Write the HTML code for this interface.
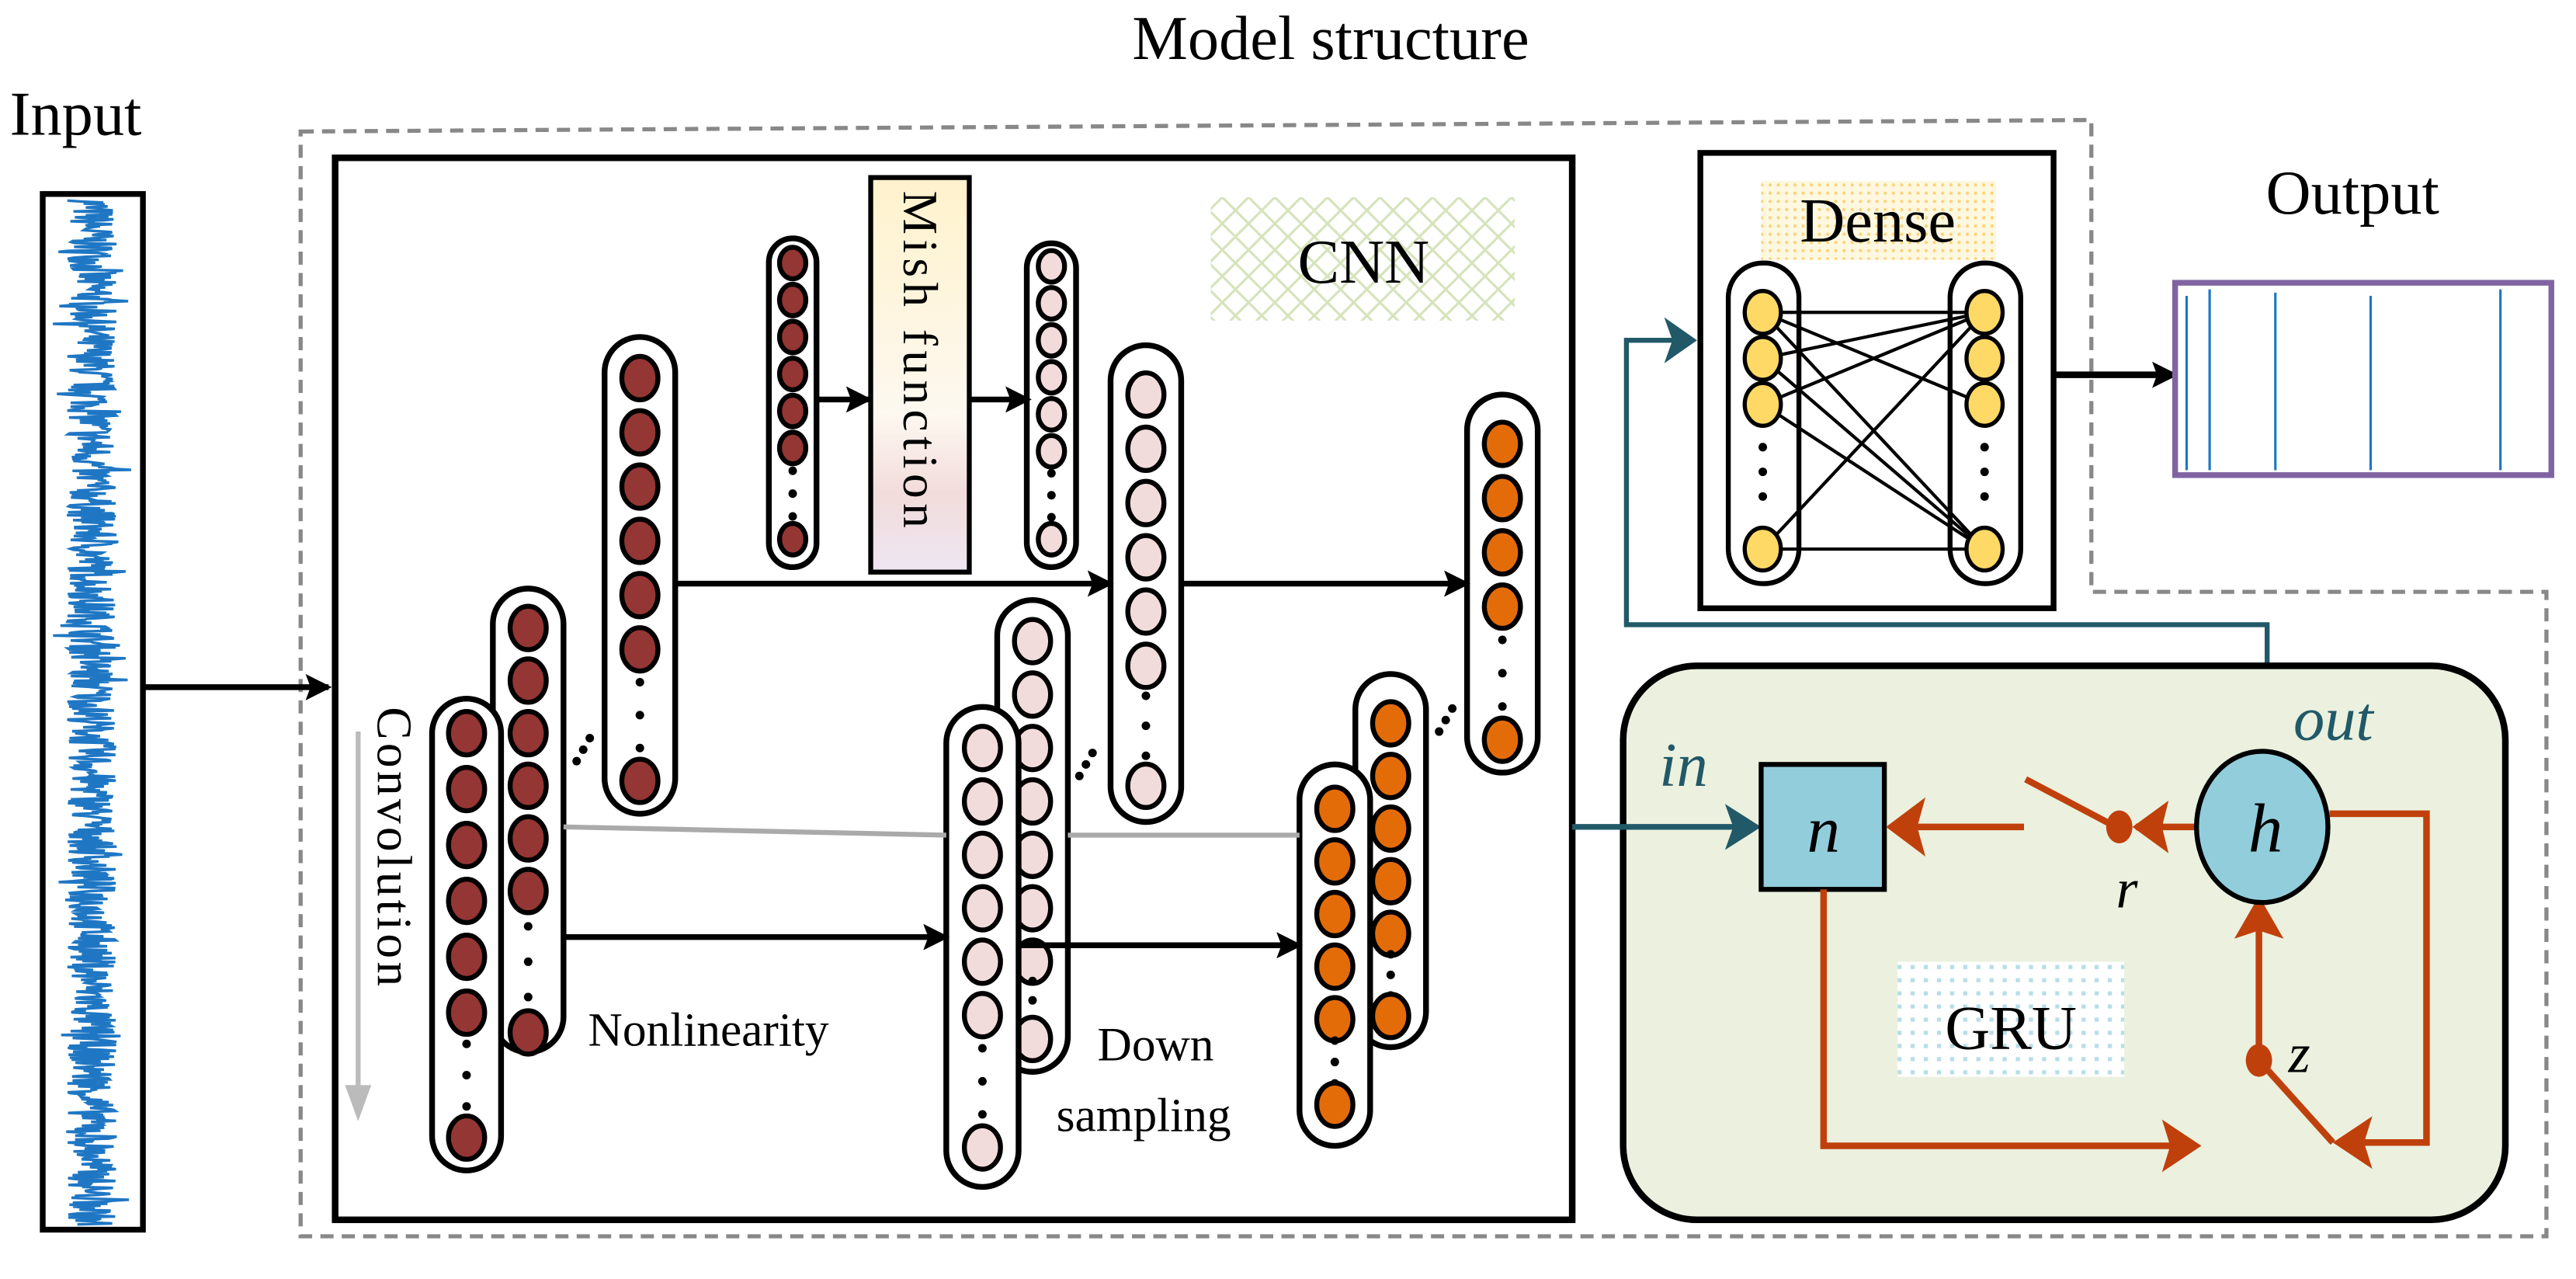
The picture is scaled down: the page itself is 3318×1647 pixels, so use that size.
<!DOCTYPE html>
<html><head><meta charset="utf-8"><style>
html,body{margin:0;padding:0;background:#fff;}
svg{display:block;}
</style></head><body>
<svg id="s" width="3318" height="1647" viewBox="0 0 1568 778" preserveAspectRatio="none" xmlns="http://www.w3.org/2000/svg" font-family="'Liberation Serif', serif">
<defs>
<marker id="ab" markerWidth="16" markerHeight="16" refX="14" refY="8" orient="auto" markerUnits="userSpaceOnUse"><path d="M0,0 L16,8 L0,16 L3,8z" fill="#000"/></marker>
<pattern id="hatch" width="16" height="16" patternUnits="userSpaceOnUse"><path d="M0,0 L16,16 M16,0 L0,16" stroke="#d6e3bc" stroke-width="1.5"/></pattern>
<pattern id="dotO" width="5" height="5" patternUnits="userSpaceOnUse"><rect width="5" height="5" fill="#fff8e0"/><circle cx="2.5" cy="2.5" r="1" fill="#fcd27a"/></pattern>
<pattern id="dotB" width="8" height="8" patternUnits="userSpaceOnUse"><rect width="8" height="8" fill="#fff"/><rect x="3" y="3" width="2.5" height="2.5" fill="#b7dde8"/></pattern>
<linearGradient id="mish" x1="0" y1="0" x2="0" y2="1"><stop offset="0" stop-color="#fff2cc"/><stop offset="0.6" stop-color="#fdf8f0"/><stop offset="0.8" stop-color="#f2dcdb"/><stop offset="1" stop-color="#ede6f2"/></linearGradient>
</defs>

<text x="810" y="36" font-size="38" text-anchor="middle">Model structure</text>
<text x="6" y="82" font-size="38">Input</text>
<text x="1432" y="130" font-size="38" text-anchor="middle">Output</text>

<path d="M183,80 L1273,73 L1273,360 L1550,360 L1550,752 L183,752 Z" fill="none" stroke="#888" stroke-width="2.5" stroke-dasharray="8,5"/>

<rect x="26" y="118" width="61" height="630" fill="#fff" stroke="#000" stroke-width="3.5"/>
<path id="sig" fill="none" stroke="#1f77c4" stroke-width="1.6"/>
<line x1="87" y1="418" x2="200" y2="418" stroke="#000" stroke-width="3.5" marker-end="url(#ab)"/>

<rect x="204" y="96" width="753" height="646" fill="#fff" stroke="#000" stroke-width="4"/>
<rect x="737" y="120" width="185" height="75" fill="url(#hatch)"/>
<text x="830" y="172" font-size="38" text-anchor="middle">CNN</text>
<rect x="530" y="108" width="60" height="240" fill="url(#mish)" stroke="#000" stroke-width="3"/>
<text transform="translate(550,116) rotate(90)" font-size="30" letter-spacing="3">Mish function</text>

<line x1="218" y1="445" x2="218" y2="668" stroke="#bbb" stroke-width="3"/>
<path d="M210,660 L218,682 L226,660 Z" fill="#bbb"/>
<text transform="translate(230,430) rotate(90)" font-size="30" letter-spacing="2">Convolution</text>

<g id="cols"></g>

<line x1="343" y1="503" x2="576" y2="508" stroke="#aaa" stroke-width="3"/>
<line x1="650" y1="508" x2="791" y2="508" stroke="#aaa" stroke-width="3"/>
<line x1="411" y1="355" x2="676" y2="355" stroke="#000" stroke-width="3.5" marker-end="url(#ab)"/>
<line x1="719" y1="355" x2="893" y2="355" stroke="#000" stroke-width="3.5" marker-end="url(#ab)"/>
<line x1="343" y1="570" x2="576" y2="570" stroke="#000" stroke-width="3.5" marker-end="url(#ab)"/>
<line x1="620" y1="575" x2="791" y2="575" stroke="#000" stroke-width="3.5" marker-end="url(#ab)"/>
<line x1="497" y1="243" x2="529" y2="243" stroke="#000" stroke-width="3.5" marker-end="url(#ab)"/>
<line x1="590" y1="243" x2="626" y2="243" stroke="#000" stroke-width="3.5" marker-end="url(#ab)"/>
<text x="358" y="636" font-size="29">Nonlinearity</text>
<text x="668" y="645" font-size="29">Down</text>
<text x="643" y="688" font-size="29">sampling</text>

<rect x="1035" y="93" width="215" height="277" fill="#fff" stroke="#000" stroke-width="3.5"/>
<rect x="1072" y="110" width="143" height="48" fill="url(#dotO)"/>
<text x="1143" y="147" font-size="38" text-anchor="middle">Dense</text>
<g id="dense"></g>
<line x1="1250" y1="228" x2="1324" y2="228" stroke="#000" stroke-width="4" marker-end="url(#ab)"/>
<rect x="1324" y="172" width="229" height="117" fill="#fff" stroke="#8064a2" stroke-width="3.5"/>
<g stroke="#1f77c4" stroke-width="1.5">
<line x1="1331" y1="180" x2="1331" y2="286"/><line x1="1345" y1="176" x2="1345" y2="286"/><line x1="1385" y1="178" x2="1385" y2="286"/><line x1="1443" y1="180" x2="1443" y2="286"/><line x1="1522" y1="176" x2="1522" y2="286"/>
</g>

<path d="M1380,463 L1380,380 L990,380 L990,207 L1030,207" fill="none" stroke="#215968" stroke-width="3"/>
<path d="M1013,193 L1033,207 L1013,221 L1018,207Z" fill="#215968"/>

<rect x="988" y="405" width="537" height="337" rx="45" fill="#ebf1de" stroke="#000" stroke-width="4"/>
<rect x="1155" y="585" width="138" height="70" fill="url(#dotB)"/>
<text x="1224" y="638" font-size="38" text-anchor="middle">GRU</text>
<line x1="957" y1="503" x2="1060" y2="503" stroke="#215968" stroke-width="3.5"/>
<path d="M1050,489 L1072,503 L1050,517 L1055,503Z" fill="#215968"/>
<text x="1010" y="478" font-size="38" font-style="italic" fill="#215968">in</text>
<text x="1396" y="450" font-size="38" font-style="italic" fill="#215968">out</text>
<rect x="1072" y="465" width="75" height="76" fill="#92cddc" stroke="#000" stroke-width="3"/>
<text x="1110" y="518" font-size="40" font-style="italic" text-anchor="middle">n</text>
<g stroke="#c0400c" stroke-width="4" fill="none">
<line x1="1340" y1="503" x2="1300" y2="503"/>
<line x1="1288" y1="503" x2="1233" y2="474"/>
<line x1="1232" y1="503" x2="1160" y2="503"/>
<path d="M1418,495 L1477,495 L1477,695 L1428,695"/>
<line x1="1375" y1="645" x2="1420" y2="695"/>
<line x1="1375" y1="645" x2="1375" y2="560"/>
<path d="M1110,541 L1110,697 L1325,697"/>
</g>
<g fill="#c0400c">
<ellipse cx="1290" cy="503" rx="8" ry="10"/>
<ellipse cx="1375" cy="645" rx="8" ry="10"/>
<path d="M1320,487 L1298,503 L1320,519 L1316,503 Z"/>
<path d="M1172,485 L1148,503 L1172,521 L1167,503 Z"/>
<path d="M1360,571 L1375,545 L1390,571 L1375,566 Z"/>
<path d="M1316,681 L1340,697 L1316,713 L1321,697 Z"/>
<path d="M1444,679 L1420,695 L1444,711 L1439,695 Z"/>
</g>
<ellipse cx="1377" cy="503" rx="40" ry="46" fill="#92cddc" stroke="#000" stroke-width="3"/>
<text x="1379" y="518" font-size="42" font-style="italic" text-anchor="middle">h</text>
<text x="1288" y="552" font-size="34" font-style="italic">r</text>
<text x="1393" y="652" font-size="34" font-style="italic">z</text>
</svg>
<script>
var NS="http://www.w3.org/2000/svg";
function el(p,t,a){var e=document.createElementNS(NS,t);for(var k in a)e.setAttribute(k,a[k]);p.appendChild(e);return e;}
var d="",seed=7;function rnd(){seed=(seed*16807)%2147483647;return seed/2147483647;}
for(var y=122;y<=745;y+=0.6){var x=56+(rnd()-0.5)*30*(rnd()<0.05?1.6:1);d+=(d?"L":"M")+x.toFixed(1)+","+y.toFixed(1);}
document.getElementById("sig").setAttribute("d",d);
var g=document.getElementById("cols");
function col(x1,y1,x2,y2,cys,last,fill,r){
  var w=x2-x1,cx=(x1+x2)/2;
  el(g,"rect",{x:x1,y:y1,width:w,height:y2-y1,rx:w/2,ry:w/2,fill:"#fff",stroke:"#000","stroke-width":3.5});
  cys.forEach(function(cy){el(g,"ellipse",{cx:cx,cy:cy,rx:r,ry:r*1.2,fill:fill,stroke:"#000","stroke-width":3});});
  var a=cys[cys.length-1],span=last-a;
  for(var i=1;i<=3;i++)el(g,"circle",{cx:cx,cy:a+span*i/4,r:2.6,fill:"#000"});
  el(g,"ellipse",{cx:cx,cy:last,rx:r,ry:r*1.2,fill:fill,stroke:"#000","stroke-width":3});
}
function seq(s,st,n){var a=[];for(var i=0;i<n;i++)a.push(s+st*i);return a;}
var M="#943634",P="#f2dcdb",O="#e36c09";
function dots(x,y){for(var i=0;i<3;i++)el(g,"circle",{cx:x+i*4,cy:y-i*7,r:2.6,fill:"#000"});}
col(368,205,411,495,seq(230,33,6),475,M,11);
dots(351,463);
col(300,358,343,640,seq(382,32,6),628,M,11);
col(263,425,305,712,seq(446,34,6),692,M,11);
col(468,145,497,345,seq(160,22.5,6),328,M,8);
col(625,148,655,345,seq(162,22.5,6),328,P,8);
col(676,210,719,500,seq(240,33,6),478,P,11);
dots(657,472);
col(607,365,650,652,seq(390,32.5,7),632,P,11);
col(576,430,620,722,seq(455,32.5,6),698,P,11);
col(893,240,936,470,seq(270,33,4),450,O,11);
dots(876,445);
col(825,410,868,637,seq(440,32,5),618,O,11);
col(791,465,834,697,seq(492,32,5),672,O,11);
var dg=document.getElementById("dense");
[[1052,1095],[1187,1230]].forEach(function(c){el(dg,"rect",{x:c[0],y:160,width:43,height:195,rx:21,fill:"#fff",stroke:"#000","stroke-width":3});});
var pairs=[[190,190],[190,334],[190,246],[218,190],[246,190],[218,334],[334,190],[334,334],[246,334]];
pairs.forEach(function(p){el(dg,"line",{x1:1073,y1:p[0],x2:1208,y2:p[1],stroke:"#000","stroke-width":2});});
var L=[190,218,246,334];
[1073,1208].forEach(function(cx){L.forEach(function(cy){el(dg,"ellipse",{cx:cx,cy:cy,rx:11,ry:13,fill:"#ffd966",stroke:"#000","stroke-width":2.5});});for(var i=0;i<3;i++)el(dg,"circle",{cx:cx,cy:272+i*15,r:2.6,fill:"#000"});});
</script>
</body></html>
